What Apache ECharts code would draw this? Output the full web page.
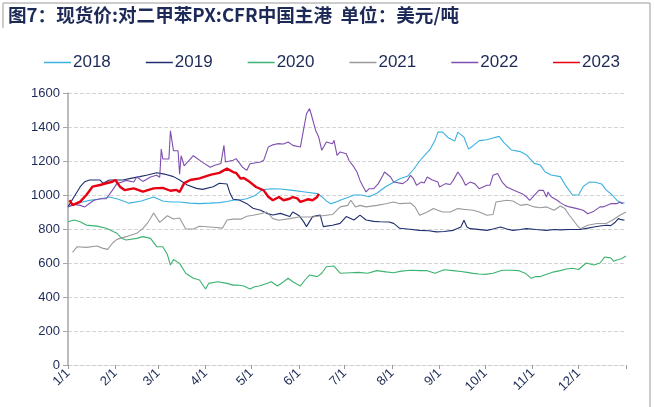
<!DOCTYPE html>
<html>
<head>
<meta charset="utf-8">
<script src="https://cdn.jsdelivr.net/npm/echarts@6/dist/echarts.min.js"></script>
<style>
  html, body { margin: 0; padding: 0; background: #fff; }
  #chart { width: 654px; height: 407px; }
</style>
</head>
<body>
<div id="chart"></div>
<script>
// x = day of year (1/1 = 0)
const monthDays = [0, 31, 59, 90, 120, 151, 181, 212, 243, 273, 304, 334]
const monthLabels = ['1/1', '2/1', '3/1', '4/1', '5/1', '6/1', '7/1', '8/1', '9/1', '10/1', '11/1', '12/1']
const yearNames = ['2018', '2019', '2020', '2021', '2022', '2023']
const yearColors = ['#3bb1e2', '#1f2f6e', '#3cb371', '#9a9a9a', '#7e4fae', '#e60012']

const days2018 = [0,5,10,15,20,27,33,40,48,56,62,67,73,80,86,93,99,104,108,113,117,122,127,133,139,147,155,163,166,169,172,175,178,183,187,192,197,202,208,213,217,222,226,230,234,237,240,242,245,249,253,255,259,262,265,269,274,278,282,285,290,296,300,305,309,312,316,322,326,330,334,337,341,345,349,352,356,359,362,364]
const vals2018 = [930,945,960,970,975,988,975,952,965,988,965,959,959,952,949,952,955,962,969,972,978,995,1030,1037,1035,1027,1018,1008,990,965,949,958,969,985,1000,1000,990,1010,1050,1075,1095,1110,1150,1200,1240,1270,1320,1370,1370,1335,1318,1370,1340,1270,1290,1320,1325,1335,1345,1310,1265,1255,1235,1186,1176,1137,1118,1108,1049,1000,1000,1050,1076,1075,1065,1030,1000,970,950,955]

const days2019 = [0,4,8,11,14,21,23,27,30,36,41,47,52,58,63,69,73,78,84,88,95,99,104,106,108,112,117,121,126,130,134,139,145,147,151,154,156,160,165,167,173,178,182,187,191,195,200,204,210,213,217,222,230,236,241,246,252,257,259,261,263,268,274,278,283,287,291,296,300,306,313,318,322,328,335,340,344,348,352,355,358,360,362,364]
const vals2019 = [930,990,1049,1078,1088,1088,1069,1088,1088,1088,1098,1108,1118,1131,1123,1108,1088,1059,1039,1033,1049,1069,1065,1010,975,971,949,922,910,892,882,892,873,900,880,845,814,873,882,814,822,833,873,853,882,853,845,843,841,833,804,800,792,790,783,785,792,812,851,812,802,798,792,800,812,800,792,797,802,797,792,797,795,797,797,805,812,818,822,820,840,861,855,851]

const days2020 = [0,4,8,12,19,25,32,35,38,45,49,54,58,62,65,67,69,73,77,82,86,90,92,98,104,108,111,115,119,122,125,130,133,137,141,144,147,152,155,158,163,166,169,174,178,185,190,196,202,208,213,218,224,230,235,240,246,252,257,261,265,269,273,278,284,290,295,299,303,306,309,314,318,322,326,330,334,339,344,348,351,355,357,359,362,365]
const vals2020 = [843,853,843,823,817,804,775,745,735,745,755,745,696,696,650,588,621,598,540,510,500,447,480,490,480,470,471,465,447,460,465,480,490,465,490,510,490,465,500,529,520,540,578,582,540,543,545,540,555,548,543,552,557,555,555,540,560,555,550,545,539,535,533,540,557,557,555,540,510,520,520,537,548,555,565,569,562,600,588,600,635,630,610,618,625,641]

const days2021 = [3,6,12,19,23,26,29,32,38,45,49,52,54,56,60,65,69,73,77,82,86,95,101,104,108,113,117,121,126,130,134,138,145,151,160,169,173,178,183,185,188,191,195,202,208,213,217,224,227,230,235,239,245,250,255,260,265,269,274,278,280,287,291,296,300,305,309,313,318,322,325,328,333,335,340,346,352,356,361,365]
const vals2021 = [663,696,692,700,686,680,716,739,755,775,804,835,863,894,839,878,859,865,800,800,816,810,805,853,858,858,875,881,890,900,861,851,861,871,871,881,885,930,939,969,930,939,930,939,949,959,949,953,930,881,900,920,900,900,920,915,910,900,881,885,959,969,965,939,945,930,925,930,910,935,920,881,822,802,822,832,832,851,881,900]

const days2022 = [0,4,8,11,14,17,21,25,29,32,35,38,43,45,49,54,58,60,61,62,66,67,69,72,73,74,76,82,88,93,96,100,102,103,108,110,114,117,119,126,128,131,134,137,141,144,147,152,154,156,158,159,162,164,166,169,173,174,176,178,182,184,187,189,191,193,195,197,200,203,206,207,211,213,219,222,224,226,228,231,233,235,238,242,243,247,250,252,255,258,260,263,266,269,274,276,278,281,284,287,292,297,300,302,305,308,311,313,314,316,320,322,325,328,333,337,340,344,348,350,355,359,361,363]
const vals2022 = [930,945,939,930,950,969,978,978,1027,1067,1075,1086,1076,1106,1080,1106,1116,1104,1270,1212,1212,1378,1260,1260,1123,1231,1172,1231,1192,1163,1175,1185,1292,1194,1204,1214,1165,1145,1184,1194,1204,1282,1295,1302,1300,1312,1292,1282,1380,1478,1508,1478,1380,1341,1263,1312,1302,1321,1233,1253,1243,1200,1165,1135,1086,1050,1018,1037,1037,1067,1116,1135,1106,1076,1067,1086,1116,1096,1057,1076,1070,1106,1090,1076,1047,1067,1062,1086,1135,1096,1057,1076,1067,1037,1057,1057,1116,1126,1076,1047,1027,1008,988,969,998,1027,1027,988,1018,990,969,955,939,930,920,910,890,905,930,930,949,949,959,950]

const days2023 = [1,3,8,12,16,21,25,29,31,34,37,43,49,56,62,67,71,73,76,80,86,93,99,104,108,110,113,115,119,123,128,131,134,138,141,145,147,150,152,155,157,160,163,164]
const vals2023 = [970,941,961,1000,1049,1059,1069,1078,1088,1049,1029,1039,1020,1039,1042,1025,1030,1018,1070,1088,1098,1118,1130,1155,1135,1130,1096,1100,1076,1047,1027,990,969,988,969,978,988,980,959,969,975,969,988,1008]

const allDays = [days2018, days2019, days2020, days2021, days2022, days2023]
const allVals = [vals2018, vals2019, vals2020, vals2021, vals2022, vals2023]

const textColor = '#1d2a57'
const chart = echarts.init(document.getElementById('chart'))

const series = yearNames.map((name, i) => ({
  name: name,
  type: 'line',
  data: allDays[i].map((d, k) => [d, allVals[i][k]]),
  showSymbol: false,
  smooth: false,
  z: 2 + i,
  lineStyle: { color: yearColors[i], width: name === '2023' ? 2.4 : 1.1 },
  itemStyle: { color: yearColors[i] },
}))

chart.setOption({
  animation: false,
  title: {
    text: '图7：现货价:对二甲苯PX:CFR中国主港  单位：美元/吨',
    left: 8,
    top: 6,
    padding: 0,
    textStyle: {
      fontFamily: 'Noto Sans CJK SC',
      fontSize: 18.6,
      fontWeight: 'bold',
      color: textColor,
    },
  },
  legend: {
    left: 44,
    top: 54,
    padding: 0,
    icon: 'rect',
    itemWidth: 27,
    itemHeight: 1.5,
    itemGap: 35,
    textStyle: { color: textColor, fontSize: 17, fontFamily: 'Liberation Sans', padding: [0, 0, 0, -3] },
    data: yearNames,
  },
  grid: { left: 68, right: 28, top: 93, bottom: 42, outerBoundsMode: 'none' },
  xAxis: {
    type: 'value',
    min: 0,
    max: 365,
    splitLine: { show: false },
    axisLine: { show: true, lineStyle: { color: '#cfcfcf', type: 'dashed' } },
    axisTick: {
      show: true,
      customValues: monthDays.concat([365]),
      length: 4,
      lineStyle: { color: '#999' },
    },
    axisLabel: {
      customValues: monthDays,
      formatter: v => monthLabels[monthDays.indexOf(v)],
      rotate: 45,
      color: textColor,
      fontSize: 13,
      fontFamily: 'Liberation Sans',
      margin: 6,
    },
  },
  yAxis: {
    type: 'value',
    min: 0,
    max: 1600,
    interval: 200,
    axisLine: { show: true, lineStyle: { color: '#a6a6a6', width: 1.5 } },
    axisTick: { show: true, length: 5, lineStyle: { color: '#a6a6a6' } },
    splitLine: { show: true, lineStyle: { color: '#d4d4d4', type: 'dashed' } },
    axisLabel: {
      color: textColor,
      fontSize: 13,
      fontFamily: 'Liberation Sans',
      margin: 8,
      formatter: v => String(v),
    },
  },
  graphic: [
    { type: 'polyline', shape: { points: [[3, 28], [3, 3], [650, 3], [650, 407]] }, style: { stroke: '#9a9a9a', fill: null, lineWidth: 1 } },
  ],
  series: series,
})
</script>
</body>
</html>
